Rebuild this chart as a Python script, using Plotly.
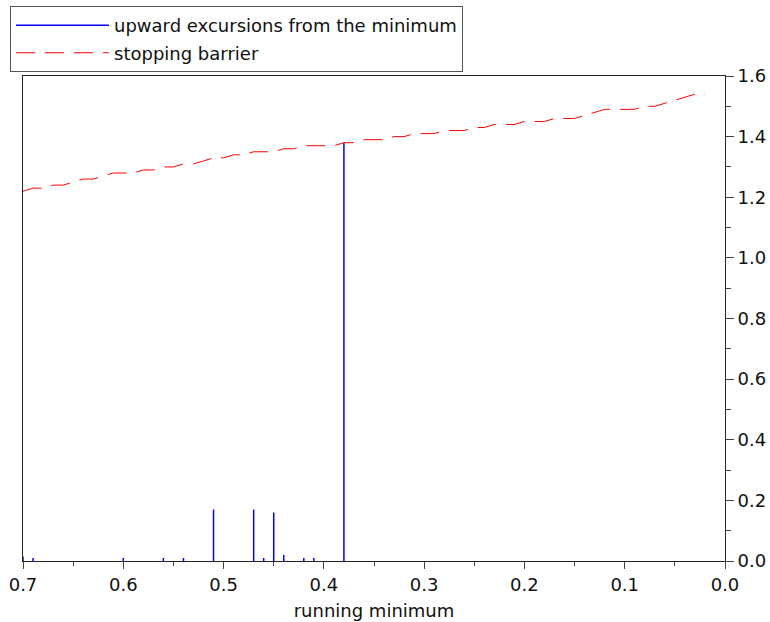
import plotly.graph_objects as go

# Running minimum grid for the stopping barrier (0.70 down to 0.02)
barrier_x = [round(0.70 - 0.01 * i, 2) for i in range(69)]
barrier_y = [
    1.22, 1.23, 1.23, 1.24, 1.24, 1.25, 1.26, 1.26, 1.27, 1.28,
    1.28, 1.28, 1.29, 1.29, 1.30, 1.30, 1.31, 1.31, 1.32, 1.33,
    1.33, 1.34, 1.34, 1.35, 1.35, 1.35, 1.36, 1.36, 1.37, 1.37,
    1.37, 1.37, 1.38, 1.38, 1.39, 1.39, 1.39, 1.40, 1.40, 1.41,
    1.41, 1.41, 1.42, 1.42, 1.42, 1.43, 1.43, 1.44, 1.44, 1.44,
    1.45, 1.45, 1.45, 1.46, 1.46, 1.46, 1.47, 1.48, 1.49, 1.49,
    1.49, 1.49, 1.50, 1.50, 1.51, 1.52, 1.53, 1.54, 1.54,
]

# Upward excursions of the path above its running minimum
excursion_x = [0.70, 0.69, 0.60, 0.56, 0.54, 0.51, 0.47, 0.46, 0.45, 0.44, 0.42, 0.41, 0.38]
excursion_h = [0.015, 0.01, 0.01, 0.01, 0.01, 0.17, 0.17, 0.01, 0.16, 0.02, 0.01, 0.01, 1.38]

spike_x, spike_y = [], []
for x, h in zip(excursion_x, excursion_h):
    spike_x += [x, x, None]
    spike_y += [0, h, None]

FONT = "DejaVu Sans"
SIZE = 18

fig = go.Figure()
fig.add_trace(go.Scatter(
    x=spike_x, y=spike_y, mode="lines",
    line=dict(color="#0000ff", width=1.5),
    name="upward excursions from the minimum",
    legendgroup="a",
))
fig.add_trace(go.Scatter(
    x=barrier_x, y=barrier_y, mode="lines",
    line=dict(color="#ff0000", width=1, dash="19px,10px"),
    name="stopping barrier",
    legendgroup="b",
))

axis_common = dict(
    showgrid=False, zeroline=False,
    showline=True, linecolor="#222", linewidth=1, mirror=True,
    ticks="outside", tickcolor="#444", tickwidth=1,
    tickformat=".1f",
    tickfont=dict(family=FONT, size=SIZE, color="#111"),
)

fig.update_layout(
    width=770, height=622,
    margin=dict(l=23, r=45, t=76, b=61, autoexpand=False),
    paper_bgcolor="white", plot_bgcolor="white",
    font=dict(family=FONT, size=SIZE, color="#111"),
    showlegend=True,
    legend=dict(
        x=-0.0185, y=1.144, xanchor="left", yanchor="top",
        bgcolor="white", bordercolor="#555", borderwidth=1,
        font=dict(family=FONT, size=SIZE, color="#111"),
        tracegroupgap=1, itemwidth=93,
        entrywidth=470, entrywidthmode="pixels",
    ),
    xaxis=dict(
        range=[0.7, 0.0], dtick=0.1, tick0=0, ticklen=7,
        minor=dict(dtick=0.05, ticks="outside", ticklen=4, tickcolor="#444"),
        title=dict(text="running minimum", font=dict(family=FONT, size=SIZE), standoff=10),
        **axis_common,
    ),
    yaxis=dict(
        range=[0, 1.6], dtick=0.2, tick0=0, side="right", ticklen=8,
        minor=dict(dtick=0.1, ticks="outside", ticklen=5, tickcolor="#444"),
        **axis_common,
    ),
)

fig.write_html("out.html")
